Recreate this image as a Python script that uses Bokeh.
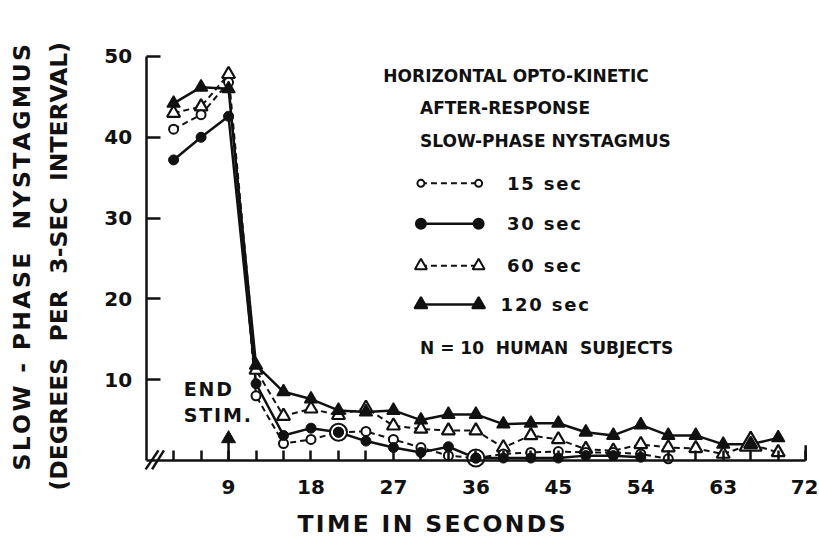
from bokeh.plotting import figure
from bokeh.models import FixedTicker, Title
from bokeh.core.properties import value
from bokeh.embed import file_html
from bokeh.resources import INLINE

# ---------------- data ----------------
times = [3, 6, 9, 12, 15, 18, 21, 24, 27, 30, 33, 36, 39, 42, 45, 48, 51, 54, 57, 60, 63, 66, 69]

stim_15_times = times[:19]
stim_15_values = [41.0, 42.8, 46.8, 8.0, 2.1, 2.6, 3.5, 3.6, 2.6, 1.6, 0.6, 0.3, 0.8, 1.0, 1.1, 1.0, 1.0, 0.8, 0.2]

stim_30_times = times[:18]
stim_30_values = [37.2, 40.0, 42.6, 9.5, 3.1, 4.0, 3.5, 2.4, 1.6, 1.0, 1.7, 0.3, 0.3, 0.3, 0.3, 0.6, 0.6, 0.4]

stim_60_times = times
stim_60_values = [43.0, 43.8, 47.8, 11.2, 5.5, 6.4, 5.6, 6.5, 4.3, 3.9, 3.7, 3.7, 1.6, 3.1, 2.6, 1.4, 1.2, 2.0, 1.6, 1.5, 0.8, 2.0, 1.0]

stim_120_times = times
stim_120_values = [44.2, 46.2, 46.0, 11.8, 8.5, 7.6, 6.2, 6.0, 6.2, 5.0, 5.7, 5.7, 4.5, 4.6, 4.6, 3.5, 3.1, 4.4, 3.1, 3.1, 2.0, 2.0, 2.8]

x_label_ticks = [9, 18, 27, 36, 45, 54, 63, 72]
x_minor_ticks = [3, 6, 12, 15, 21, 24, 30, 33, 39, 42, 48, 51, 57, 60, 66, 69]
y_ticks = [10, 20, 30, 40, 50]
x_axis_end = 72

end_stim_time = 9
end_stim_mark = 2.7

legend_labels = ["15 sec", "30 sec", "60 sec", "120 sec"]
legend_title = ["HORIZONTAL OPTO-KINETIC", "AFTER-RESPONSE", "SLOW-PHASE NYSTAGMUS"]
legend_note = "N = 10  HUMAN  SUBJECTS"

x_title = "TIME IN SECONDS"
y_title_1 = "SLOW - PHASE  NYSTAGMUS"
y_title_2 = "(DEGREES  PER  3-SEC  INTERVAL)"


def spaced(s, gap="\u200a"):
    """Imitate the wide lettering: hair spaces between letters, no-break spaces for blanks."""
    return gap.join(ch if ch != " " else "\u00a0" for ch in s)


def coincident(t_a, v_a, t_b, v_b):
    """Points where two series fall on the same spot (drawn as a ring round the filled mark)."""
    lookup = dict(zip(t_b, v_b))
    xs, ys = [], []
    for t, v in zip(t_a, v_a):
        if t in lookup and abs(lookup[t] - v) < 1e-9:
            xs.append(t)
            ys.append(v)
    return xs, ys


# ---------------- figure ----------------
FONT = value("DejaVu Sans")
INK = "#111111"

p = figure(width=818, height=545, output_backend="svg", toolbar_location=None,
           x_range=(-7.27, 73.4), y_range=(-5.82, 53.96),
           min_border_left=79, min_border_right=0, min_border_top=24, min_border_bottom=38,
           title=None)
p.outline_line_color = None
p.grid.visible = False
p.background_fill_color = "white"

# axes placed at the data origin
p.xaxis.fixed_location = 0
p.yaxis.fixed_location = 0
p.xaxis.bounds = (0, x_axis_end)
p.yaxis.bounds = (0, 50)
p.xaxis.ticker = FixedTicker(ticks=x_label_ticks, minor_ticks=x_minor_ticks)
p.yaxis.ticker = FixedTicker(ticks=y_ticks, minor_ticks=[])
for ax in (p.xaxis, p.yaxis):
    ax.axis_line_width = 2.5
    ax.axis_line_color = INK
    ax.major_tick_line_width = 2.5
    ax.major_tick_line_color = INK
    ax.minor_tick_line_width = 2.5
    ax.minor_tick_line_color = INK
    ax.major_tick_out = 0
    ax.minor_tick_out = 0
    ax.major_label_text_font = "DejaVu Sans"
    ax.major_label_text_font_style = "bold"
    ax.major_label_text_font_size = "20px"
    ax.major_label_text_color = INK
p.xaxis.major_tick_in = 10
p.xaxis.minor_tick_in = 10
p.xaxis.major_label_standoff = 20
p.yaxis.major_tick_in = 14
p.yaxis.minor_tick_in = 0
p.yaxis.major_label_standoff = 14

# axis break marks "//" and the taller closing tick at the end of the time axis
p.segment(x0=[-0.05, 0.65], y0=[-1.1, -1.1], x1=[1.35, 1.95], y1=[1.25, 1.25],
          line_color=INK, line_width=2.5)
p.segment(x0=[x_axis_end], y0=[0], x1=[x_axis_end], y1=[1.9], line_color=INK, line_width=2.5)

# axis titles
title_style = dict(text_font="DejaVu Sans", text_font_style="bold", text_font_size="23.5px",
                   text_color=INK)
p.add_layout(Title(text=spaced(x_title), align="left", offset=218, standoff=0,
                   **title_style), "below")
p.add_layout(Title(text=spaced(y_title_2, ""), align="left", offset=17, standoff=14,
                   **title_style), "left")
p.add_layout(Title(text=spaced(y_title_1), align="left", offset=37, standoff=0,
                   **title_style), "left")

# ---------------- series ----------------
dash = "6 4"
p.line(stim_120_times, stim_120_values, line_color=INK, line_width=2.5)
p.line(stim_60_times, stim_60_values, line_color=INK, line_width=2, line_dash=dash)
p.line(stim_30_times, stim_30_values, line_color=INK, line_width=2.5)
p.line(stim_15_times, stim_15_values, line_color=INK, line_width=2, line_dash=dash)

# where an open and a filled mark coincide, the open mark is drawn larger round it
tri_x, tri_y = coincident(stim_60_times, stim_60_values, stim_120_times, stim_120_values)
circ_x, circ_y = coincident(stim_15_times, stim_15_values, stim_30_times, stim_30_values)
p.scatter(tri_x, tri_y, marker="triangle", size=22, fill_color="white", line_color=INK,
          line_width=2.2)
p.scatter(circ_x, circ_y, marker="circle", size=17, fill_color="white", line_color=INK,
          line_width=2)

p.scatter(stim_60_times, stim_60_values, marker="triangle", size=13,
          fill_color="white", line_color=INK, line_width=2.2)
p.scatter(stim_15_times, stim_15_values, marker="circle", size=9,
          fill_color="white", line_color=INK, line_width=2)
p.scatter(stim_120_times, stim_120_values, marker="triangle", size=13,
          fill_color=INK, line_color=INK, line_width=1.5)
p.scatter(stim_30_times, stim_30_values, marker="circle", size=10,
          fill_color=INK, line_color=INK, line_width=1)

# END STIM. marker
p.segment(x0=[end_stim_time], y0=[0], x1=[end_stim_time], y1=[end_stim_mark],
          line_color=INK, line_width=2.5)
p.scatter([end_stim_time], [end_stim_mark], marker="triangle", size=14,
          fill_color=INK, line_color=INK)
p.text(x=[4.1, 4.1], y=[8.9, 5.6], text=[spaced("END"), spaced("STIM.")], text_font=FONT,
       text_font_style="bold", text_font_size="19px", text_color=INK,
       text_align="left", text_baseline="middle")

# ---------------- legend (drawn in the plot) ----------------
p.text(x=[25.9, 29.9, 29.9], y=[47.6, 43.6, 39.5], text=legend_title, text_font=FONT,
       text_font_style="bold", text_font_size="17px", text_color=INK,
       text_align="left", text_baseline="middle")
leg_x0, leg_x1 = 30.0, 36.3
leg_y = [34.3, 29.3, 24.1, 19.3]
styles = [
    dict(marker="circle", size=7, fill_color="white", dash=dash, lw=2),
    dict(marker="circle", size=10, fill_color=INK, dash="solid", lw=2.5),
    dict(marker="triangle", size=12, fill_color="white", dash=dash, lw=2),
    dict(marker="triangle", size=13, fill_color=INK, dash="solid", lw=2.5),
]
for yy, st, lab in zip(leg_y, styles, legend_labels):
    p.line([leg_x0, leg_x1], [yy, yy], line_color=INK, line_width=st["lw"], line_dash=st["dash"])
    p.scatter([leg_x0, leg_x1], [yy, yy], marker=st["marker"], size=st["size"],
              fill_color=st["fill_color"], line_color=INK, line_width=2)
    p.text(x=[39.4 if len(lab) < 7 else 38.7], y=[yy], text=[spaced(lab)], text_font=FONT,
           text_font_style="bold", text_font_size="18px", text_color=INK,
           text_align="left", text_baseline="middle")
p.text(x=[29.9], y=[13.9], text=[spaced(legend_note, "")], text_font=FONT,
       text_font_style="bold", text_font_size="17px", text_color=INK,
       text_align="left", text_baseline="middle")

open("out.html", "w").write(file_html(p, INLINE))
